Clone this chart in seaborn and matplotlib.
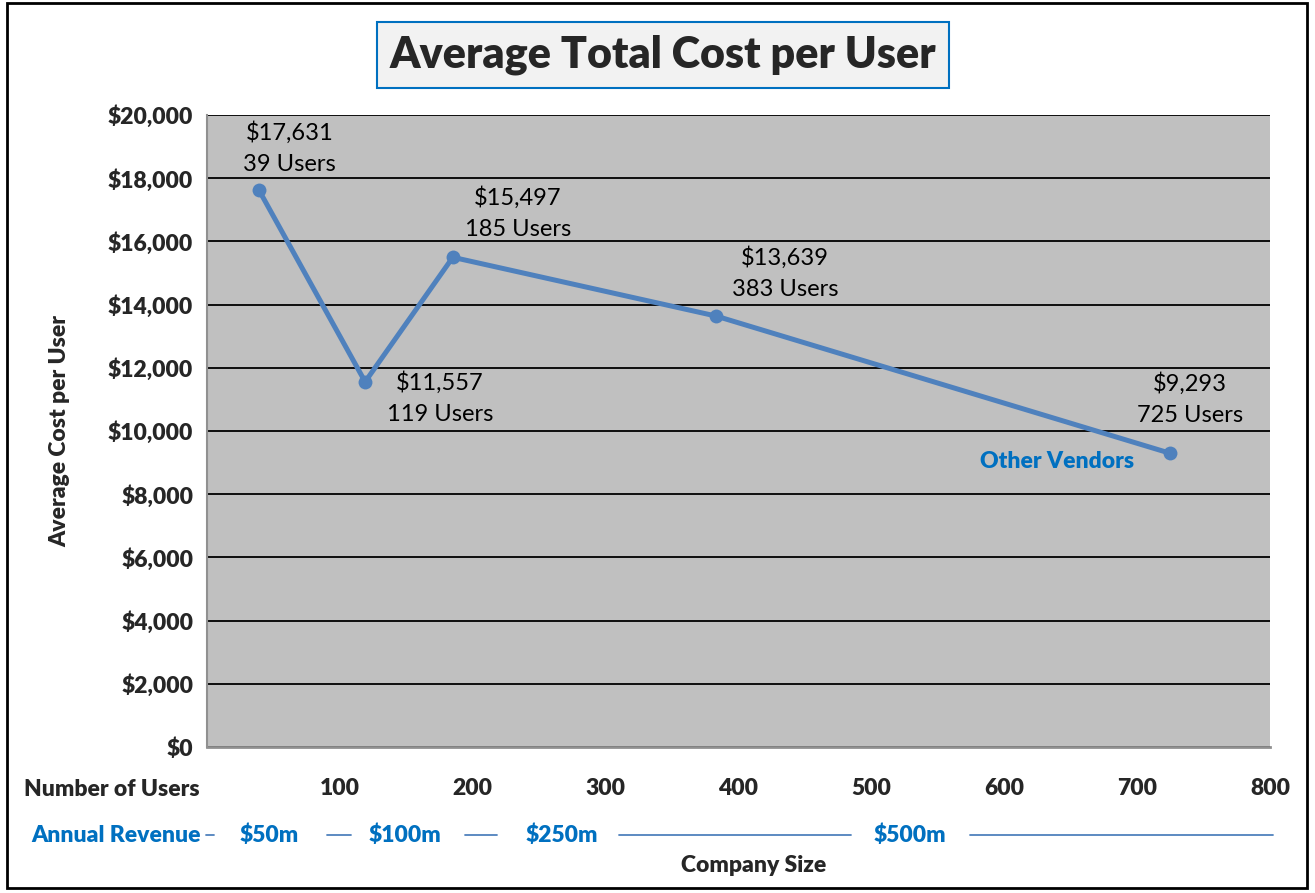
import matplotlib
matplotlib.use("Agg")
import matplotlib.pyplot as plt
import matplotlib.patches as mpatches
from matplotlib.ticker import MultipleLocator, FuncFormatter
import seaborn as sns
import pandas as pd

users = [39, 119, 185, 383, 725]
cost = [17631, 11557, 15497, 13639, 9293]
# label offsets (points) from each data point
label_dx = [22, 54, 47, 50, 14]
label_dy = [30, -12, 32, 31, 39]
x_ticks = [100, 200, 300, 400, 500, 600, 700, 800]
y_ticks = list(range(0, 20001, 2000))
revenue_labels = ["$50m", "$100m", "$250m", "$500m"]
revenue_pos = [47, 149, 267, 529]
revenue_lines = [(-1, 5), (90, 108), (194, 218), (310, 485), (574, 802)]

df = pd.DataFrame({"users": users, "cost": cost})

sns.set_style("white")
plt.rcParams["font.family"] = ["Lato", "DejaVu Sans"]

blue_line = "#4F81BD"
blue_text = "#0070C0"
bold = "heavy"
fs = 16.5

fig = plt.figure(figsize=(13.15, 8.93), dpi=100)
ax = fig.add_axes([207 / 1315, 146 / 893, 1063 / 1315, 632 / 893])
ax.set_facecolor("#C0C0C0")

sns.lineplot(data=df, x="users", y="cost", ax=ax, color=blue_line, linewidth=3.6,
             marker="o", markersize=10, markeredgewidth=0, zorder=5)

ax.set_xlim(0, 800)
ax.set_ylim(0, 20000)
ax.set_yticks(y_ticks)
ax.yaxis.set_minor_locator(MultipleLocator(1000))
ax.yaxis.set_major_formatter(FuncFormatter(lambda v, p: f"${v:,.0f}"))
ax.set_xticks(x_ticks)
ax.set_xticklabels([str(t) for t in x_ticks])
ax.yaxis.grid(True, color="black", linewidth=1.3)
ax.set_axisbelow(True)
ax.tick_params(axis="y", which="major", length=0, pad=10, labelsize=fs)
ax.tick_params(axis="y", which="minor", direction="in", length=5, color="#808080", width=1.2)
ax.tick_params(axis="x", which="major", direction="in", length=7, color="#808080", width=1.2,
               pad=22, labelsize=fs)
for lab in ax.get_yticklabels() + ax.get_xticklabels():
    lab.set_fontweight(bold)
for s in ["top", "right"]:
    ax.spines[s].set_visible(False)
ax.spines["left"].set_color("#909090")
ax.spines["left"].set_linewidth(1.5)
ax.spines["bottom"].set_color("#909090")
ax.spines["bottom"].set_linewidth(2)
ax.set_xlabel("")
ax.set_ylabel("Average Cost per User", fontsize=fs, fontweight=bold)
ax.yaxis.set_label_coords(-(207 - 70) / 1063, 0.5)

for u, c, dx, dy in zip(users, cost, label_dx, label_dy):
    ax.annotate(f"${c:,}\n{u} Users", xy=(u, c), xytext=(dx, dy), textcoords="offset points",
                ha="center", va="center", fontsize=17, linespacing=1.6, color="black")

ax.text(1057 / 1315, 1 - 462 / 893, "Other Vendors", transform=fig.transFigure, ha="center",
        va="center", fontsize=fs, fontweight=bold, color=blue_text)

# x-axis rows
fig.text(112 / 1315, 1 - 789 / 893, "Number of Users", ha="center", va="center",
         fontsize=fs, fontweight=bold)
fig.text(116 / 1315, 1 - 835 / 893, "Annual Revenue", ha="center", va="center",
         fontsize=fs, fontweight=bold, color=blue_text)
trans = ax.get_xaxis_transform()
for lab, pos in zip(revenue_labels, revenue_pos):
    ax.text(pos, -(835 - 747) / 632, lab, transform=trans, ha="center", va="center",
            fontsize=fs, fontweight=bold, color=blue_text, clip_on=False)
for x0, x1 in revenue_lines:
    ax.plot([x0, x1], [-(835 - 747) / 632] * 2, transform=trans, color=blue_line,
            linewidth=1.3, clip_on=False)
fig.text(754 / 1315, 1 - 866 / 893, "Company Size", ha="center", va="center",
         fontsize=fs, fontweight=bold)

# title box
fig.text(663 / 1315, 1 - 55 / 893, "Average Total Cost per User", ha="center", va="center",
         fontsize=31, fontweight=bold,
         bbox=dict(boxstyle="square,pad=0.3", facecolor="#F2F2F2", edgecolor=blue_text,
                   linewidth=1.5))

# outer border
fig.patches.append(mpatches.Rectangle((7 / 1315, 5 / 893), 1300 / 1315, 885 / 893,
                                      transform=fig.transFigure, fill=False,
                                      edgecolor="black", linewidth=2))

fig.savefig("out.png", dpi=100)
